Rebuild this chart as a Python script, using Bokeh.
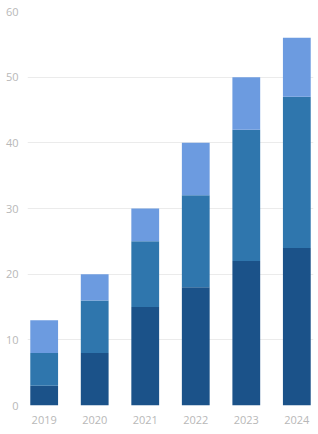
from bokeh.plotting import figure
from bokeh.models import Range1d, FixedTicker, ColumnDataSource
from bokeh.embed import file_html
from bokeh.resources import INLINE

years = ["2019", "2020", "2021", "2022", "2023", "2024"]
series_a = [3, 8, 15, 18, 22, 24]
series_b = [5, 8, 10, 14, 20, 23]
series_c = [5, 4, 5, 8, 8, 9]
stack_names = ["a", "b", "c"]
colors = ["#1b5289", "#2f76ad", "#6c9be0"]
y_ticks = [0, 10, 20, 30, 40, 50, 60]

xs = list(range(len(years)))
source = ColumnDataSource(data=dict(x=xs, a=series_a, b=series_b, c=series_c))

p = figure(width=316, height=426, output_backend="svg", toolbar_location=None,
           x_range=Range1d(-0.33, len(years) - 1 + 0.33), y_range=Range1d(0, 60),
           min_border_left=27, min_border_right=3, min_border_top=11, min_border_bottom=21)

p.vbar_stack(stack_names, x="x", width=0.55, color=colors, source=source, line_color=None)

p.xaxis.ticker = FixedTicker(ticks=xs)
p.xaxis.major_label_overrides = {i: y for i, y in enumerate(years)}
p.yaxis.ticker = FixedTicker(ticks=y_ticks)
for ax in (p.xaxis, p.yaxis):
    ax.axis_line_color = None
    ax.major_tick_line_color = None
    ax.minor_tick_line_color = None
    ax.major_tick_out = 0
    ax.major_tick_in = 0
    ax.major_label_text_font_size = "11px"
    ax.major_label_text_color = "#b8b8b8"
    ax.major_label_text_font = "Open Sans"
p.yaxis.major_label_standoff = 9
p.xaxis.major_label_standoff = 10
p.xgrid.grid_line_color = None
p.ygrid.grid_line_color = "#ebebeb"
p.ygrid.ticker = FixedTicker(ticks=y_ticks)
p.outline_line_color = None

open("out.html", "w").write(file_html(p, INLINE))
